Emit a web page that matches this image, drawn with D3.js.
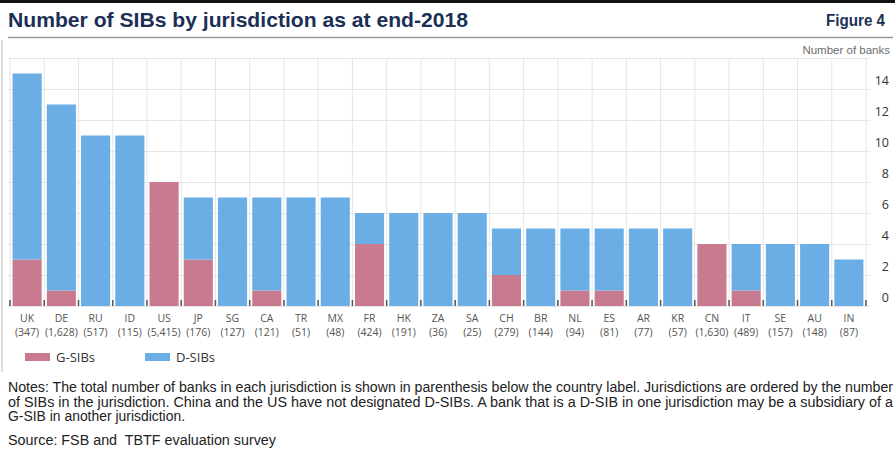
<!DOCTYPE html>
<html>
<head>
<meta charset="utf-8">
<script src="https://cdn.jsdelivr.net/npm/d3@7"></script>
<style>
  html, body { margin: 0; padding: 0; background: #fff; }
  svg { display: block; }
</style>
</head>
<body>
<svg id="chart" width="895" height="449"></svg>
<script>
// Jurisdictions, ordered by number of SIBs
const jurisdictions = ["UK","DE","RU","ID","US","JP","SG","CA","TR","MX","FR","HK","ZA","SA","CH","BR","NL","ES","AR","KR","CN","IT","SE","AU","IN"];
// Total number of banks in each jurisdiction (shown in parenthesis)
const bankTotals = ["347","1,628","517","115","5,415","176","127","121","51","48","424","191","36","25","279","144","94","81","77","57","1,630","489","157","148","87"];
// Global systemically important banks
const gSIBs = [3,1,0,0,8,3,0,1,0,0,4,0,0,0,2,0,1,1,0,0,4,1,0,0,0];
// Domestic systemically important banks
const dSIBs = [12,12,11,11,0,4,7,6,7,7,2,6,6,6,3,5,4,4,5,5,0,3,4,4,3];
// Axis ticks
const yTicks = [0,2,4,6,8,10,12,14];
const gridTicks = [0,2,4,6,8,10,12,14,16];
const seriesNames = ["G-SIBs","D-SIBs"];
const seriesColors = ["#c87b8e","#6aaee5"];

const svg = d3.select("#chart");
const W = 895;

// Header: black rule, title, figure number, grey separator
svg.append("rect").attr("x",0).attr("y",0).attr("width",W).attr("height",3).attr("fill","#111");
svg.append("text").attr("x",8).attr("y",27)
  .attr("font-family","Liberation Sans, Arial, sans-serif").attr("font-weight","bold")
  .attr("font-size",21).attr("fill","#1c2f55")
  .attr("textLength",460).attr("lengthAdjust","spacingAndGlyphs")
  .text("Number of SIBs by jurisdiction as at end-2018");
svg.append("text").attr("x",885).attr("y",26).attr("text-anchor","end")
  .attr("font-family","Liberation Sans, Arial, sans-serif").attr("font-weight","bold")
  .attr("font-size",16).attr("fill","#1c2f55")
  .attr("textLength",59).attr("lengthAdjust","spacingAndGlyphs")
  .text("Figure 4");
svg.append("line").attr("x1",8).attr("x2",893).attr("y1",37.5).attr("y2",37.5)
  .attr("stroke","#9a9a9a").attr("stroke-width",1.5);
svg.append("line").attr("x1",2).attr("x2",2).attr("y1",40).attr("y2",372)
  .attr("stroke","#dcdcdc").attr("stroke-width",2);

// Scales
const pad = 0.15;
const x = d3.scaleBand().domain(jurisdictions).range([10, 866])
  .paddingInner(pad).paddingOuter(pad / 2);
const y = d3.scaleLinear().domain([0, 16]).range([306, 58]);
const step = x.step();
const boundaries = d3.range(jurisdictions.length + 1).map(i => x.range()[0] + i * step);

// Unit label
svg.append("text").attr("x",890).attr("y",54).attr("text-anchor","end")
  .attr("font-family","Liberation Sans, Arial, sans-serif").attr("font-size",11.5)
  .attr("fill","#6b6b6b").text("Number of banks");

// Gridlines
const grid = svg.append("g");
grid.selectAll("line.h").data(gridTicks).join("line").attr("class","h")
  .attr("x1",8).attr("x2",870).attr("y1",d => Math.round(y(d)) + 0.5).attr("y2",d => Math.round(y(d)) + 0.5)
  .attr("stroke","#e6e6e6").attr("stroke-width",1);
grid.selectAll("line.v").data(boundaries).join("line").attr("class","v")
  .attr("x1",d => d).attr("x2",d => d).attr("y1",y(16)).attr("y2",y(0))
  .attr("stroke","#e6e6e6").attr("stroke-width",1);

// Stacked bars
const rows = jurisdictions.map((j, i) => ({ j, "G-SIBs": gSIBs[i], "D-SIBs": dSIBs[i] }));
const stacked = d3.stack().keys(seriesNames)(rows);
svg.append("g").selectAll("g").data(stacked).join("g")
  .attr("fill", (d, i) => seriesColors[i])
  .selectAll("rect").data(d => d).join("rect")
  .attr("x", d => x(d.data.j))
  .attr("width", x.bandwidth())
  .attr("y", d => y(d[1]))
  .attr("height", d => y(d[0]) - y(d[1]));

// Category tick marks at the baseline
svg.append("g").selectAll("line").data(boundaries).join("line")
  .attr("x1",d => d).attr("x2",d => d).attr("y1",y(0) - 6).attr("y2",y(0))
  .attr("stroke","#555").attr("stroke-width",1.5);

// Right-hand y axis labels (sit just above their gridlines)
const yAxis = d3.axisRight(y).tickValues(yTicks).tickSize(0).tickPadding(0);
const yG = svg.append("g").attr("transform","translate(889,0)").call(yAxis);
yG.select(".domain").remove();
yG.selectAll("text").attr("text-anchor","end").attr("dy","-0.35em")
  .attr("font-family","Open Sans, Noto Sans, sans-serif").attr("font-size",12.5).attr("fill","#333");

// Category labels with bank totals below
const xAxis = d3.axisBottom(x).tickSize(0).tickPadding(0).tickFormat(() => "");
const xG = svg.append("g").attr("transform",`translate(0,${y(0)})`).call(xAxis);
xG.select(".domain").remove();
xG.selectAll(".tick text").remove();
const ticks = xG.selectAll(".tick");
ticks.append("text").attr("y",16).attr("text-anchor","middle")
  .attr("font-family","Open Sans, Noto Sans, sans-serif").attr("font-size",10.5).attr("fill","#555")
  .text(d => d);
ticks.append("text").attr("y",30).attr("text-anchor","middle")
  .attr("font-family","Open Sans, Noto Sans, sans-serif").attr("font-size",10.5).attr("fill","#555")
  .text(d => "(" + bankTotals[jurisdictions.indexOf(d)] + ")");

// Legend
const legend = svg.append("g").attr("transform","translate(25,352)");
const items = legend.selectAll("g").data(seriesNames).join("g")
  .attr("transform",(d, i) => `translate(${i * 120},0)`);
items.append("rect").attr("width",25).attr("height",8).attr("y",1)
  .attr("fill",(d, i) => seriesColors[i]);
items.append("text").attr("x",31).attr("y",10)
  .attr("font-family","Open Sans, Noto Sans, sans-serif").attr("font-size",13).attr("fill","#333")
  .text(d => d);

// Notes and source (narrow face: compressed to the column width)
const notes = [
  ["Notes: The total number of banks in each jurisdiction is shown in parenthesis below the country label. Jurisdictions are ordered by the number", 885, 392],
  ["of SIBs in the jurisdiction. China and the US have not designated D-SIBs. A bank that is a D-SIB in one jurisdiction may be a subsidiary of a", 885, 406.5],
  ["G-SIB in another jurisdiction.", 177, 421],
  ["Source: FSB and  TBTF evaluation survey", 268, 445]
];
const noteG = svg.append("g").attr("font-family","Liberation Sans, Arial, sans-serif")
  .attr("font-size",14).attr("fill","#222");
notes.forEach(([t, len, yy]) => {
  noteG.append("text").attr("x",8).attr("y",yy)
    .attr("xml:space","preserve")
    .attr("textLength",len).attr("lengthAdjust","spacingAndGlyphs")
    .text(t);
});
</script>
</body>
</html>
